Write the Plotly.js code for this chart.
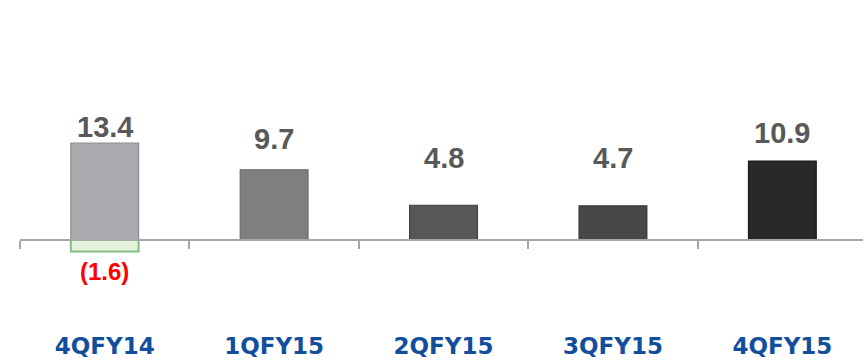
<!DOCTYPE html>
<html>
<head>
<meta charset="utf-8">
<script src="https://cdn.plot.ly/plotly-3.0.1.min.js"></script>
<style>
  html, body { margin: 0; padding: 0; background: #ffffff; }
  #chart { width: 863px; height: 360px; }
</style>
</head>
<body>
<div id="chart"></div>
<script>
// ---- data ----
var categories = ["4QFY14", "1QFY15", "2QFY15", "3QFY15", "4QFY15"];
var values = [13.4, 9.7, 4.8, 4.7, 10.9];
var valueLabels = ["13.4", "9.7", "4.8", "4.7", "10.9"];
var adjustCategories = ["4QFY14"];
var adjustValues = [-1.6];
var adjustLabels = ["(1.6)"];

// ---- styling ----
var barColors = ["#A9AAAE", "#7F7F7F", "#575757", "#474747", "#292929"];
var barEdges = ["#8C8D91", "#6A6A6A", "#404040", "#333333", "#1A1A1A"];
var labelShift = [16, 31, 47, 48, 28];   // px above bar top (label centre)

var yMin = -8.29, yMax = 30.39;

var traces = [
  {
    type: "bar",
    x: categories,
    y: values,
    width: 0.40,
    marker: { color: barColors, line: { color: barEdges, width: 1.2 } },
    hoverinfo: "x+y"
  },
  {
    type: "bar",
    x: adjustCategories,
    y: adjustValues,
    width: 0.40,
    marker: { color: "#E2F4DC", line: { color: "#86BD83", width: 2 } },
    hoverinfo: "x+y"
  }
];

var annotations = [];
for (var i = 0; i < categories.length; i++) {
  annotations.push({
    x: categories[i], y: values[i], xref: "x", yref: "y",
    text: valueLabels[i], showarrow: false,
    yanchor: "middle", yshift: labelShift[i],
    font: { family: "Liberation Sans, Arial, sans-serif", size: 29, color: "#595959", weight: "bold" }
  });
}
for (var j = 0; j < adjustCategories.length; j++) {
  annotations.push({
    x: adjustCategories[j], y: adjustValues[j], xref: "x", yref: "y",
    text: adjustLabels[j], showarrow: false,
    yanchor: "middle", yshift: -20,
    font: { family: "Liberation Sans, Arial, sans-serif", size: 24, color: "#FF0000", weight: "bold" }
  });
}

var layout = {
  width: 863, height: 360,
  margin: { l: 20, r: 0, t: 20, b: 60 },
  paper_bgcolor: "#ffffff", plot_bgcolor: "#ffffff",
  barmode: "overlay",
  showlegend: false,
  xaxis: {
    type: "category",
    range: [-0.5, 4.476],
    anchor: "free",
    position: (0 - yMin) / (yMax - yMin),
    showline: true, linecolor: "#A6A6A6", linewidth: 2,
    ticks: "outside", tickson: "boundaries", ticklen: 8, tickwidth: 2, tickcolor: "#A6A6A6",
    ticklabelstandoff: 85,
    tickfont: { family: "DejaVu Sans, sans-serif", size: 23, color: "#114E9C", weight: "bold" },
    showgrid: false, zeroline: false, fixedrange: true
  },
  yaxis: {
    range: [yMin, yMax],
    visible: false, showgrid: false, zeroline: false, fixedrange: true
  },
  annotations: annotations
};

Plotly.newPlot("chart", traces, layout, { displayModeBar: false, staticPlot: true });
</script>
</body>
</html>
